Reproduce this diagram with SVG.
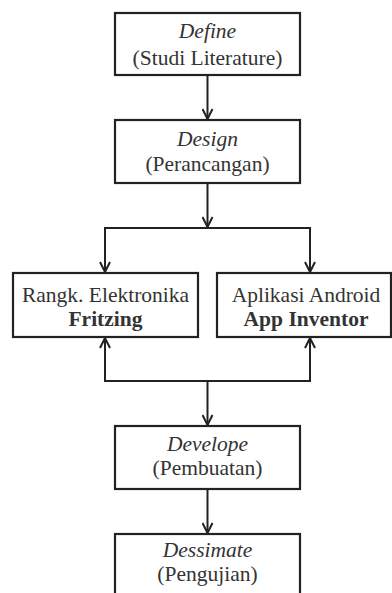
<svg xmlns="http://www.w3.org/2000/svg" width="392" height="593" viewBox="0 0 392 593">
<defs>
<style>
.box{fill:#fff;stroke:#222;stroke-width:2.2}
.t{font-family:"Liberation Serif","Times New Roman",serif;font-size:21.5px;fill:#333;text-anchor:middle}
.i{font-style:italic}
.b{font-weight:bold}
.c{fill:none;stroke:#222;stroke-width:2}
</style>
<marker id="ah" viewBox="0 0 12 12" refX="11" refY="6" markerWidth="12" markerHeight="12" markerUnits="userSpaceOnUse" orient="auto">
<path d="M1,1 L11,6 L1,11" fill="none" stroke="#222" stroke-width="2"/>
</marker>
</defs>
<rect width="392" height="593" fill="#fff"/>
<g id="connectors">
<line class="c" x1="207.5" y1="75" x2="207.5" y2="119" marker-end="url(#ah)"/>
<line class="c" x1="207.5" y1="183" x2="207.5" y2="227" marker-end="url(#ah)"/>
<polyline class="c" points="105,272 105,228 310,228 310,272"/>
<line class="c" x1="105" y1="250" x2="105" y2="272" marker-end="url(#ah)"/>
<line class="c" x1="310" y1="250" x2="310" y2="272" marker-end="url(#ah)"/>
<polyline class="c" points="105,338 105,381 310,381 310,338"/>
<line class="c" x1="105" y1="360" x2="105" y2="338" marker-end="url(#ah)"/>
<line class="c" x1="310" y1="360" x2="310" y2="338" marker-end="url(#ah)"/>
<line class="c" x1="207.5" y1="381" x2="207.5" y2="425" marker-end="url(#ah)"/>
<line class="c" x1="207.5" y1="489" x2="207.5" y2="533" marker-end="url(#ah)"/>
</g>
<g id="define">
<rect class="box" x="115" y="13" width="185" height="62"/>
<text class="t i" x="207.5" y="38">Define</text>
<text class="t" x="207.5" y="65">(Studi Literature)</text>
</g>
<g id="design">
<rect class="box" x="115" y="120" width="185" height="63"/>
<text class="t i" x="207.5" y="146">Design</text>
<text class="t" x="207.5" y="171">(Perancangan)</text>
</g>
<g id="fritzing">
<rect class="box" x="13" y="273" width="185" height="64"/>
<text class="t" x="105.5" y="302">Rangk. Elektronika</text>
<text class="t b" x="105.5" y="326">Fritzing</text>
</g>
<g id="appinventor">
<rect class="box" x="217" y="273" width="174" height="64"/>
<text class="t" x="306" y="302">Aplikasi Android</text>
<text class="t b" x="306" y="326">App Inventor</text>
</g>
<g id="develope">
<rect class="box" x="115" y="426" width="185" height="63"/>
<text class="t i" x="207.5" y="451">Develope</text>
<text class="t" x="207.5" y="475">(Pembuatan)</text>
</g>
<g id="dessimate">
<rect class="box" x="115" y="534" width="185" height="70"/>
<text class="t i" x="207.5" y="557">Dessimate</text>
<text class="t" x="207.5" y="581">(Pengujian)</text>
</g>
</svg>
